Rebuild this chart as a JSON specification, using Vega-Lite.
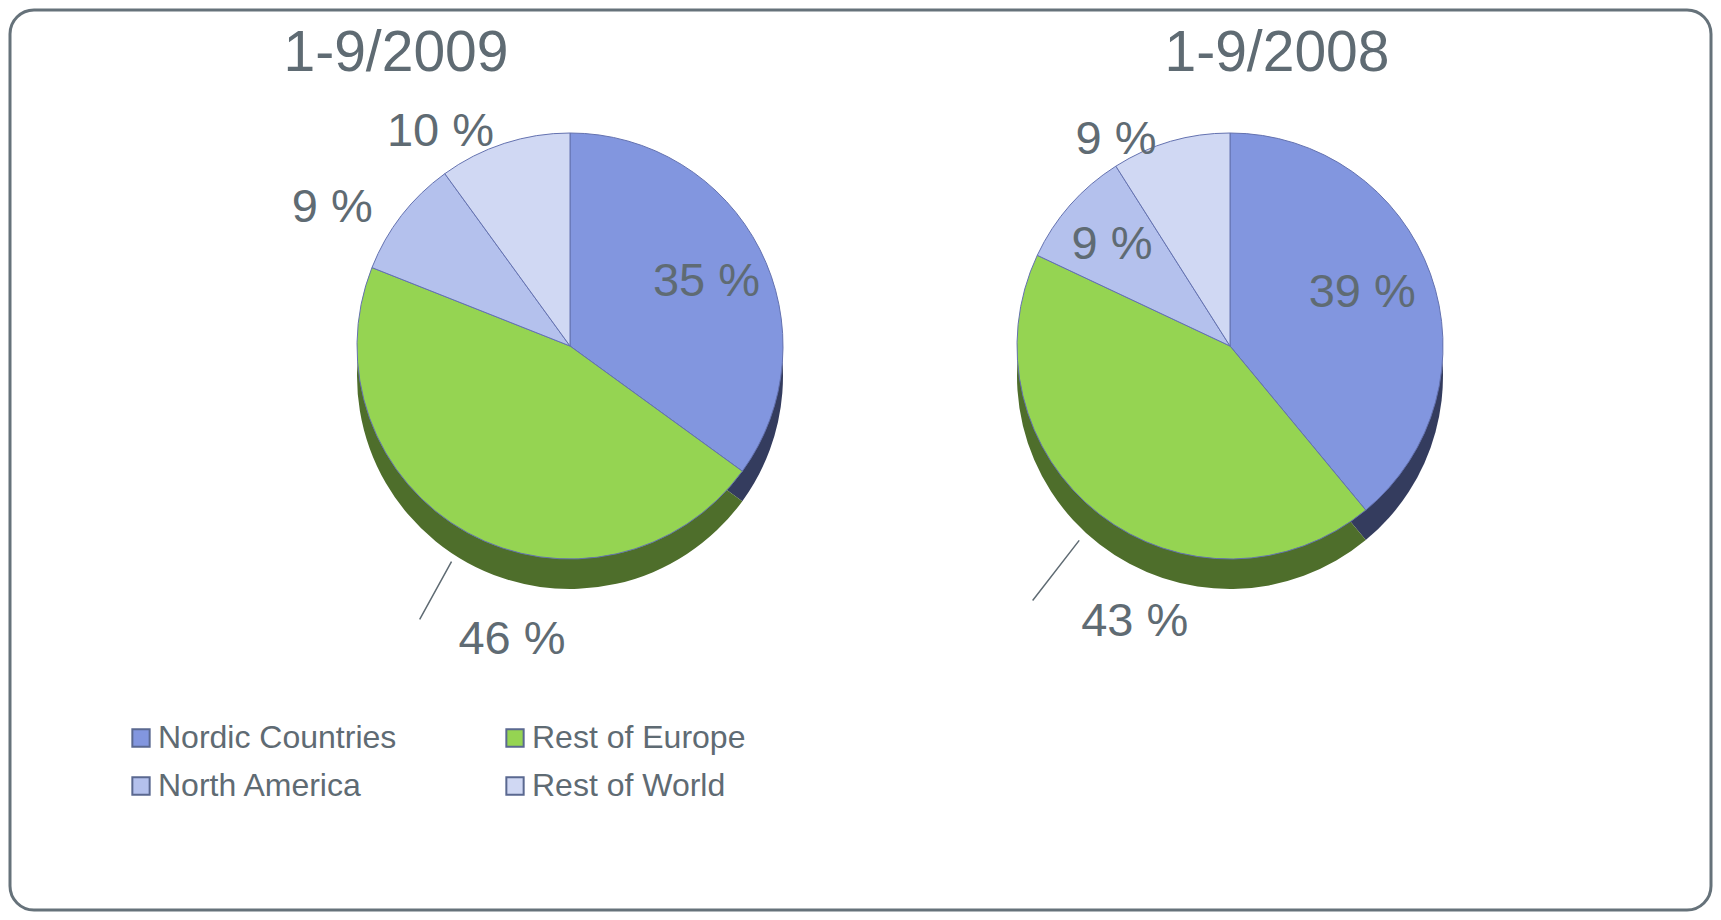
{
  "$schema": "https://vega.github.io/schema/vega-lite/v6.json",
  "width": 1721,
  "height": 920,
  "autosize": {"type": "fit", "contains": "padding"},
  "padding": 10,
  "background": "white",
  "config": {
    "view": {"stroke": "#66727A", "strokeWidth": 3, "cornerRadius": 24},
    "font": "Liberation Sans",
    "text": {"font": "Liberation Sans", "fontSize": 47, "color": "#5F6B73"},
    "legend": {
      "orient": "none",
      "legendX": 115,
      "legendY": 712,
      "direction": "horizontal",
      "columns": 2,
      "columnPadding": 102,
      "rowPadding": 16,
      "padding": 0,
      "symbolType": "square",
      "symbolSize": 300,
      "symbolStrokeColor": "#5A6890",
      "symbolStrokeWidth": 2,
      "labelFont": "Liberation Sans",
      "labelFontSize": 32,
      "labelColor": "#5F6B73",
      "labelOffset": 1,
      "labelLimit": 400
    }
  },
  "data": {
    "values": [
      {"period": "1-9/2009", "region": "Nordic Countries", "pct": 35, "rank": 1, "label": "35 %"},
      {"period": "1-9/2009", "region": "Rest of Europe", "pct": 46, "rank": 2, "label": "46 %"},
      {"period": "1-9/2009", "region": "North America", "pct": 9, "rank": 3, "label": "9 %"},
      {"period": "1-9/2009", "region": "Rest of World", "pct": 10, "rank": 4, "label": "10 %"},
      {"period": "1-9/2008", "region": "Nordic Countries", "pct": 39, "rank": 1, "label": "39 %"},
      {"period": "1-9/2008", "region": "Rest of Europe", "pct": 43, "rank": 2, "label": "43 %"},
      {"period": "1-9/2008", "region": "North America", "pct": 9, "rank": 3, "label": "9 %"},
      {"period": "1-9/2008", "region": "Rest of World", "pct": 9, "rank": 4, "label": "9 %"}
    ]
  },
  "layer": [
    {
      "transform": [{"filter": "datum.period == '1-9/2009'"}],
      "encoding": {
        "x": {"field": "period", "type": "nominal", "scale": {"type": "point", "domain": ["1-9/2009", "1-9/2008"], "range": [560, 1220], "padding": 0}, "axis": null},
        "y": {"datum": "pie", "type": "nominal", "scale": {"type": "point", "domain": ["title", "pie"], "range": [44, 336], "padding": 0}, "axis": null},
        "theta": {"field": "pct", "type": "quantitative", "stack": true},
        "order": {"field": "rank", "type": "quantitative"},
        "detail": {"field": "region", "type": "nominal"}
      },
      "layer": [
        {
          "mark": {"type": "arc", "outerRadius": 213, "yOffset": 30},
          "encoding": {"color": {"condition": [
            {"test": "datum.region == 'Nordic Countries'", "value": "#343C5E"},
            {"test": "datum.region == 'Rest of Europe'", "value": "#4E6E2B"},
            {"test": "datum.region == 'North America'", "value": "#7E88AD"}
          ], "value": "#98A1C0"}}
        },
        {
          "mark": {"type": "arc", "outerRadius": 213, "stroke": "#6472B0", "strokeWidth": 1},
          "encoding": {"color": {"field": "region", "type": "nominal", "scale": {"domain": ["Nordic Countries", "Rest of Europe", "North America", "Rest of World"], "range": ["#8296DF", "#95D452", "#B4C1ED", "#D0D8F3"]}, "legend": {"title": null}}}
        },
        {
          "mark": {"type": "arc", "innerRadius": 246, "outerRadius": 312, "padAngle": 3.1, "fillOpacity": 0, "stroke": "#5F6B73", "strokeWidth": 1.5},
          "encoding": {"strokeOpacity": {"condition": {"test": "datum.region == 'Rest of Europe'", "value": 1}, "value": 0}}
        },
        {
          "mark": {"type": "text", "radius": 142, "dx": 10},
          "encoding": {"text": {"condition": {"test": "datum.region == 'Nordic Countries'", "field": "label"}, "value": ""}}
        },
        {
          "mark": {"type": "text", "radius": 225, "dx": -60},
          "encoding": {"text": {"condition": {"test": "datum.region == 'North America' || datum.region == 'Rest of World'", "field": "label"}, "value": ""}}
        },
        {
          "mark": {"type": "text", "radius": 300, "dx": 33, "dy": 31, "align": "left"},
          "encoding": {"text": {"condition": {"test": "datum.region == 'Rest of Europe'", "field": "label"}, "value": ""}}
        }
      ]
    },
    {
      "transform": [{"filter": "datum.period == '1-9/2008'"}],
      "encoding": {
        "x": {"field": "period", "type": "nominal", "scale": {"type": "point", "domain": ["1-9/2009", "1-9/2008"], "range": [560, 1220], "padding": 0}, "axis": null},
        "y": {"datum": "pie", "type": "nominal", "scale": {"type": "point", "domain": ["title", "pie"], "range": [44, 336], "padding": 0}, "axis": null},
        "theta": {"field": "pct", "type": "quantitative", "stack": true},
        "order": {"field": "rank", "type": "quantitative"},
        "detail": {"field": "region", "type": "nominal"}
      },
      "layer": [
        {
          "mark": {"type": "arc", "outerRadius": 213, "yOffset": 30},
          "encoding": {"color": {"condition": [
            {"test": "datum.region == 'Nordic Countries'", "value": "#343C5E"},
            {"test": "datum.region == 'Rest of Europe'", "value": "#4E6E2B"},
            {"test": "datum.region == 'North America'", "value": "#7E88AD"}
          ], "value": "#98A1C0"}}
        },
        {
          "mark": {"type": "arc", "outerRadius": 213, "stroke": "#6472B0", "strokeWidth": 1},
          "encoding": {"color": {"field": "region", "type": "nominal", "scale": {"domain": ["Nordic Countries", "Rest of Europe", "North America", "Rest of World"], "range": ["#8296DF", "#95D452", "#B4C1ED", "#D0D8F3"]}, "legend": {"title": null}}}
        },
        {
          "mark": {"type": "arc", "innerRadius": 246, "outerRadius": 322, "padAngle": 3.1, "fillOpacity": 0, "stroke": "#5F6B73", "strokeWidth": 1.5},
          "encoding": {"strokeOpacity": {"condition": {"test": "datum.region == 'Rest of Europe'", "value": 1}, "value": 0}}
        },
        {
          "mark": {"type": "text", "radius": 148, "dx": -7, "dy": -3},
          "encoding": {"text": {"condition": {"test": "datum.region == 'Nordic Countries' || datum.region == 'North America'", "field": "label"}, "value": ""}}
        },
        {
          "mark": {"type": "text", "radius": 215, "dx": -54},
          "encoding": {"text": {"condition": {"test": "datum.region == 'Rest of World'", "field": "label"}, "value": ""}}
        },
        {
          "mark": {"type": "text", "radius": 300, "dx": 35, "dy": 39, "align": "left"},
          "encoding": {"text": {"condition": {"test": "datum.region == 'Rest of Europe'", "field": "label"}, "value": ""}}
        }
      ]
    },
    {
      "transform": [
        {"filter": "datum.period == '1-9/2009'"},
        {"aggregate": [{"op": "count", "as": "n"}], "groupby": ["period"]}
      ],
      "mark": {"type": "text", "fontSize": 57, "dx": -174},
      "encoding": {
        "x": {"field": "period", "type": "nominal", "scale": {"type": "point", "domain": ["1-9/2009", "1-9/2008"], "range": [560, 1220], "padding": 0}, "axis": null},
        "y": {"datum": "title", "type": "nominal", "scale": {"type": "point", "domain": ["title", "pie"], "range": [44, 336], "padding": 0}, "axis": null},
        "text": {"field": "period"}
      }
    },
    {
      "transform": [
        {"filter": "datum.period == '1-9/2008'"},
        {"aggregate": [{"op": "count", "as": "n"}], "groupby": ["period"]}
      ],
      "mark": {"type": "text", "fontSize": 57, "dx": 47},
      "encoding": {
        "x": {"field": "period", "type": "nominal", "scale": {"type": "point", "domain": ["1-9/2009", "1-9/2008"], "range": [560, 1220], "padding": 0}, "axis": null},
        "y": {"datum": "title", "type": "nominal", "scale": {"type": "point", "domain": ["title", "pie"], "range": [44, 336], "padding": 0}, "axis": null},
        "text": {"field": "period"}
      }
    }
  ]
}
